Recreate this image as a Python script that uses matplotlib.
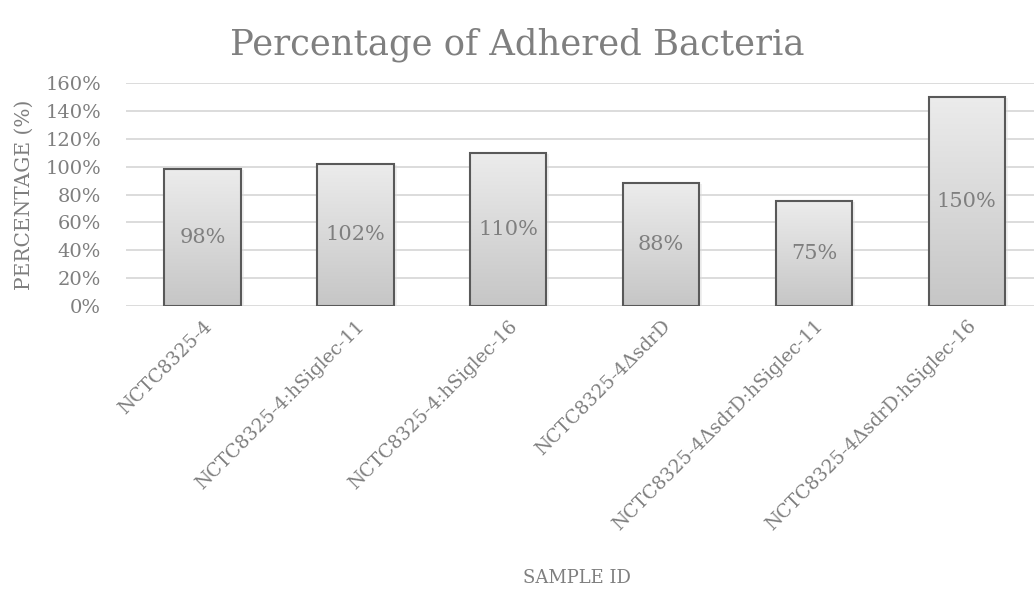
import numpy as np
import matplotlib.pyplot as plt
from matplotlib.colors import LinearSegmentedColormap

# data
samples = ["NCTC8325-4", "NCTC8325-4:hSiglec-11", "NCTC8325-4:hSiglec-16",
           "NCTC8325-4ΔsdrD", "NCTC8325-4ΔsdrD:hSiglec-11", "NCTC8325-4ΔsdrD:hSiglec-16"]
percent = [98, 102, 110, 88, 75, 150]
y_ticks = [0, 20, 40, 60, 80, 100, 120, 140, 160]

plt.rcParams['font.family'] = ['DejaVu Serif']
txt = '#7f7f7f'

fig = plt.figure(figsize=(10.34, 5.94), dpi=100)
ax = fig.add_axes([126 / 1034, 1 - 306 / 594, (1034 - 126) / 1034, (306 - 83) / 594])

x = np.arange(len(samples))
bars = ax.bar(x, percent, width=0.5, facecolor='none', edgecolor='#595959',
              linewidth=1.5, zorder=3)

# vertical gray gradient inside each bar, light at the top
grad = np.linspace(0, 1, 256).reshape(-1, 1)
cmap = LinearSegmentedColormap.from_list('g', ['#ececec', '#c6c6c6'])
for b in bars:
    x0, w, h = b.get_x(), b.get_width(), b.get_height()
    im = ax.imshow(grad, cmap=cmap, aspect='auto', origin='upper',
                   extent=[x0, x0 + w, 0, h], zorder=2, interpolation='bilinear')
    im.set_clip_path(b)
    # faint shadow
    ax.add_patch(plt.Rectangle((x0 + 0.008, 0), w + 0.012, h - 0.6, facecolor='#000000',
                               alpha=0.06, zorder=1.5, linewidth=0))
    ax.text(x0 + w / 2, h / 2, f"{h:.0f}%", ha='center', va='center',
            fontsize=15, color=txt, zorder=4)

ax.set_xlim(-0.5, len(samples) - 0.56)
ax.set_ylim(0, 160)
ax.set_yticks(y_ticks)
ax.set_yticklabels([f"{v}%" for v in y_ticks])
ax.grid(axis='y', color='#d9d9d9', linewidth=1.3, zorder=0)
for s in ax.spines.values():
    s.set_visible(False)
ax.tick_params(length=0, labelsize=14, colors=txt)
ax.tick_params(axis='y', pad=18)
ax.set_xticks(x)
ax.set_xticklabels(samples, rotation=45, ha='right', rotation_mode='anchor')
ax.tick_params(axis='x', labelsize=13.5, pad=8)

ax.set_ylabel("PERCENTAGE (%)", fontsize=14.5, color=txt, labelpad=8)
fig.text(577 / 1034, 1 - 578 / 594, "SAMPLE ID", ha='center', va='center',
         fontsize=13, color=txt)
fig.text(517 / 1034, 1 - 45 / 594, "Percentage of Adhered Bacteria", ha='center',
         va='center', fontsize=25.5, color=txt)

fig.savefig('out.png', dpi=100, facecolor='white')
